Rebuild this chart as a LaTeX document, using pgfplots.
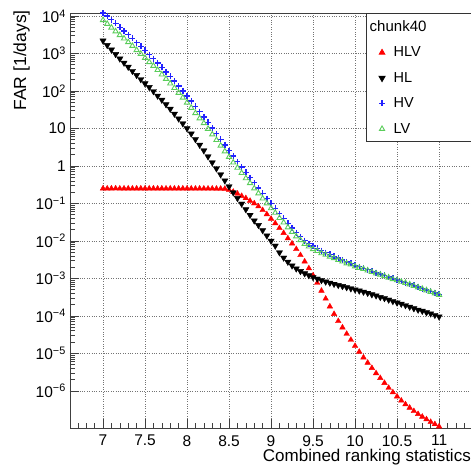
\documentclass[border=0pt]{standalone}
\usepackage{fontspec}
\setmainfont{Liberation Sans}
\usepackage{pgfplots}
\pgfplotsset{compat=1.18}
\usepackage{pgfplotstable}
\definecolor{lvgreen}{RGB}{90,205,90}
\definecolor{hvblue}{RGB}{35,35,255}

\pgfplotstableread{
x hlv hl hv lv
7.00 0.250 2190 11900 7760
7.05 0.249 1660 10000 6170
7.10 0.250 1260 7940 4900
7.15 0.251 955 6310 3890
7.20 0.249 724 5010 3090
7.25 0.250 562 3980 2510
7.30 0.250 437 3160 2000
7.35 0.249 339 2510 1590
7.40 0.250 263 1950 1230
7.45 0.250 204 1550 977
7.50 0.249 158 1200 759
7.55 0.250 126 933 589
7.60 0.250 97.7 724 468
7.65 0.249 74.1 562 363
7.70 0.250 57.5 427 275
7.75 0.249 43.7 324 209
7.80 0.250 33.1 245 158
7.85 0.249 24.5 182 120
7.90 0.249 18.2 135 89.1
7.95 0.250 13.5 100 66.1
8.00 0.249 10.0 74.1 49.0
8.05 0.249 7.24 53.7 35.5
8.10 0.248 5.13 38.9 25.7
8.15 0.249 3.63 28.2 18.6
8.20 0.248 2.57 20.4 13.8
8.25 0.248 1.78 14.5 9.77
8.30 0.248 1.23 10.2 6.92
8.35 0.247 0.851 7.24 4.90
8.40 0.247 0.589 5.13 3.47
8.45 0.245 0.407 3.63 2.45
8.50 0.229 0.282 2.57 1.74
8.55 0.204 0.195 1.82 1.23
8.60 0.182 0.138 1.29 0.891
8.65 0.158 0.0977 0.933 0.646
8.70 0.138 0.0692 0.676 0.468
8.75 0.117 0.0490 0.490 0.347
8.80 0.100 0.0347 0.355 0.251
8.85 0.0832 0.0263 0.257 0.186
8.90 0.0661 0.0191 0.186 0.135
8.95 0.0513 0.0138 0.135 0.100
9.00 0.0389 0.0100 0.100 0.0741
9.05 0.0295 0.00741 0.0741 0.0562
9.10 0.0219 0.00490 0.0537 0.0407
9.15 0.0162 0.00355 0.0398 0.0309
9.20 0.0117 0.00275 0.0295 0.0229
9.25 0.00851 0.00219 0.0219 0.0174
9.30 0.00603 0.00182 0.0166 0.0132
9.35 0.00417 0.00155 0.0129 0.0105
9.40 0.00282 0.00135 0.0102 0.00832
9.45 0.00186 0.00120 0.00851 0.00708
9.50 0.00120 0.00107 0.00724 0.00603
9.55 7.59e-4 9.77e-4 0.00631 0.00537
9.60 4.68e-4 8.91e-4 0.00550 0.00468
9.65 2.88e-4 8.13e-4 0.00490 0.00427
9.70 1.78e-4 7.59e-4 0.00437 0.00380
9.75 1.12e-4 7.08e-4 0.00389 0.00347
9.80 7.24e-5 6.61e-4 0.00347 0.00309
9.85 4.90e-5 6.17e-4 0.00309 0.00282
9.90 3.31e-5 5.75e-4 0.00275 0.00251
9.95 2.29e-5 5.37e-4 0.00251 0.00234
10.00 1.58e-5 5.01e-4 0.00224 0.00209
10.05 1.10e-5 4.68e-4 0.00204 0.00191
10.10 7.76e-6 4.37e-4 0.00186 0.00178
10.15 5.62e-6 4.07e-4 0.00170 0.00162
10.20 4.07e-6 3.72e-4 0.00155 0.00148
10.25 2.95e-6 3.47e-4 0.00141 0.00135
10.30 2.19e-6 3.16e-4 0.00132 0.00126
10.35 1.62e-6 2.95e-4 0.00120 0.00115
10.40 1.20e-6 2.69e-4 0.00110 0.00105
10.45 9.12e-7 2.45e-4 0.00100 9.55e-4
10.50 7.08e-7 2.24e-4 9.12e-4 8.91e-4
10.55 5.50e-7 2.09e-4 8.32e-4 8.13e-4
10.60 4.37e-7 1.91e-4 7.76e-4 7.59e-4
10.65 3.55e-7 1.74e-4 7.08e-4 6.92e-4
10.70 2.88e-7 1.58e-4 6.46e-4 6.31e-4
10.75 2.40e-7 1.45e-4 5.89e-4 5.75e-4
10.80 2.04e-7 1.35e-4 5.37e-4 5.25e-4
10.85 1.74e-7 1.23e-4 4.90e-4 4.79e-4
10.90 1.48e-7 1.15e-4 4.47e-4 4.37e-4
10.95 1.29e-7 1.05e-4 4.07e-4 3.98e-4
11.00 1.12e-7 9.55e-5 3.72e-4 3.63e-4
}\datatable

\begin{document}
\begin{tikzpicture}
\useasboundingbox (0,0) rectangle (471pt,466pt);
\begin{axis}[
  at={(70pt,38pt)}, anchor=south west,
  scale only axis, width=401pt, height=415pt,
  xmin=6.607, xmax=11.38,
  ymode=log, ymin=1.02e-7, ymax=1.2e4,
  xtick={7,7.5,8,8.5,9,9.5,10,10.5,11},
  xticklabels={7,7.5,8,8.5,9,9.5,10,10.5,11},
  minor xtick={6.7,6.8,6.9,7.1,7.2,7.3,7.4,7.6,7.7,7.8,7.9,8.1,8.2,8.3,8.4,8.6,8.7,8.8,8.9,9.1,9.2,9.3,9.4,9.6,9.7,9.8,9.9,10.1,10.2,10.3,10.4,10.6,10.7,10.8,10.9,11.1,11.2,11.3},
  ytick={1e-6,1e-5,1e-4,1e-3,1e-2,1e-1,1,10,100,1000,10000},
  yticklabels={10\textsuperscript{−6},10\textsuperscript{−5},10\textsuperscript{−4},10\textsuperscript{−3},10\textsuperscript{−2},10\textsuperscript{−1},1,10,10\textsuperscript{2},10\textsuperscript{3},10\textsuperscript{4}},
  tick align=inside, tick pos=left,
  major tick length=9pt, minor tick length=5pt,
  tick style={black!75, line width=0.6pt},
  grid=major,
  major grid style={dotted, black!55, line width=0.6pt},
  axis line style={black!75, line width=0.8pt},
  xticklabel style={font=\fontsize{15.5}{16}\selectfont, inner sep=0pt, yshift=-7pt},
  yticklabel style={font=\fontsize{15.5}{16}\selectfont, inner sep=0pt, xshift=-4pt},
  xlabel={Combined ranking statistics},
  xlabel style={font=\fontsize{17}{18}\selectfont, at={(axis description cs:1.0,-0.0819)}, anchor=base east, inner sep=0pt},
  ylabel={FAR [1/days]},
  ylabel style={font=\fontsize{17.5}{18}\selectfont, at={(axis description cs:-0.1097,1.007)}, anchor=base east, inner sep=0pt},
  legend style={at={(axis description cs:0.738,1.0)}, anchor=north west, draw=black!80, fill=white, line width=0.8pt,
    font=\fontsize{14.5}{15}\selectfont, row sep=10pt, inner xsep=3pt, inner ysep=5pt},
  legend cell align=left,
  legend image code/.code={\path (0pt,-3pt) (21pt,3pt); \draw[#1] plot coordinates {(12pt,0pt)};},
]
\addlegendimage{empty legend}
\addlegendentry{\hspace*{-24pt}\fontsize{15}{16}\selectfont chunk40\rule[-3pt]{0pt}{1pt}\hspace*{50pt}}
\addplot[only marks, mark=triangle*, mark size=3.2pt, color=red] table[x=x, y=hlv] {\datatable};
\addlegendentry{HLV}
\addplot[only marks, mark=triangle*, mark size=3.6pt, mark options={rotate=180}, color=black] table[x=x, y=hl] {\datatable};
\addlegendentry{HL}
\addplot[only marks, mark=+, mark size=3pt, line width=1.4pt, color=hvblue, mark options={draw=hvblue, line width=1.4pt}] table[x=x, y=hv] {\datatable};
\addlegendentry{HV}
\addplot[only marks, mark=triangle, mark size=3pt, line width=0.9pt, color=lvgreen] table[x=x, y=lv] {\datatable};
\addlegendentry{LV}
\end{axis}
\end{tikzpicture}
\end{document}
